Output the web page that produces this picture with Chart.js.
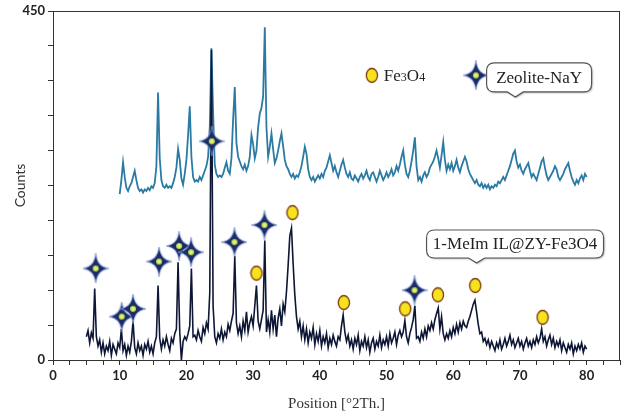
<!DOCTYPE html>
<html>
<head>
<meta charset="utf-8">
<script src="https://cdn.jsdelivr.net/npm/chart.js@4"></script>
<style>
  body { margin: 0; background: #fff; }
</style>
</head>
<body>
<canvas id="chart-xrd" width="625" height="417"></canvas>
<script>
// XRD patterns, 0.25 deg steps
const compositeStart = 5;
const zeoliteStart = 10;
const stepDeg = 0.25;

// 1-MeIm IL@ZY-Fe3O4 (5 .. 80)
const compositeCounts = [
  30, 38, 22, 35, 28, 92, 30, 18, 26, 10, 22, 8, 18, 12, 24, 6, 20, 14, 8, 22,
  16, 40, 12, 20, 6, 18, 10, 24, 50, 16, 8, 22, 12, 18, 6, 20, 14, 24, 10, 18,
  8, 22, 30, 96, 28, 14, 26, 18, 30, 20, 12, 28, 22, 34, 40, 126, 36, 0, 24, 30,
  26, 34, 44, 118, 30, 32, 26, 38, 30, 24, 42, 34, 48, 40, 86, 400, 70, 30, 22, 34,
  28, 40, 26, 36, 30, 46, 38, 50, 60, 134, 48, 34, 44, 30, 50, 38, 62, 36, 48, 56,
  44, 70, 96, 50, 40, 52, 64, 154, 36, 52, 36, 64, 40, 58, 30, 54, 66, 44, 72, 62,
  88, 122, 160, 170, 124, 84, 56, 40, 50, 30, 44, 26, 40, 22, 36, 28, 42, 20, 34, 24,
  38, 18, 30, 22, 34, 16, 28, 20, 32, 24, 18, 30, 26, 44, 58, 36, 24, 32, 18, 26,
  14, 28, 20, 32, 12, 24, 18, 30, 16, 26, 10, 22, 28, 14, 24, 18, 32, 16, 26, 20,
  30, 18, 34, 22, 28, 36, 20, 32, 38, 30, 36, 51, 30, 22, 34, 42, 52, 70, 28, 30,
  24, 36, 28, 40, 30, 44, 38, 48, 40, 52, 60, 67, 40, 56, 34, 26, 34, 28, 38, 30,
  42, 34, 46, 36, 48, 40, 50, 44, 42, 50, 56, 64, 72, 77, 62, 46, 34, 36, 24, 28,
  20, 26, 16, 24, 18, 12, 22, 16, 26, 14, 20, 28, 18, 24, 32, 20, 26, 16, 22, 28,
  18, 24, 14, 22, 28, 18, 24, 16, 26, 20, 30, 22, 28, 40, 24, 30, 18, 26, 32, 20,
  28, 16, 24, 18, 26, 12, 22, 16, 10, 20, 14, 22, 8, 18, 12, 20, 14, 22, 10, 18,
  14
];

// Zeolite-NaY, shifted up (10 .. 80)
const zeoliteCounts = [
  214, 232, 255, 236, 222, 218, 224, 228, 236, 244, 232, 222, 218, 220, 216, 220, 218, 222, 219, 224,
  222, 228, 250, 345, 260, 232, 224, 222, 226, 222, 224, 222, 228, 236, 248, 272, 258, 234, 226, 240,
  258, 290, 327, 262, 236, 230, 232, 230, 236, 232, 238, 244, 250, 262, 300, 402, 320, 252, 240, 236,
  238, 236, 240, 248, 255, 244, 240, 260, 310, 352, 280, 262, 256, 250, 246, 252, 244, 250, 262, 290,
  278, 260, 270, 300, 318, 325, 340, 429, 300, 262, 275, 292, 272, 254, 260, 270, 282, 292, 276, 258,
  250, 246, 240, 236, 240, 234, 238, 236, 242, 250, 262, 275, 266, 246, 236, 232, 236, 230, 234, 238,
  234, 240, 236, 244, 248, 256, 264, 254, 244, 250, 242, 236, 244, 252, 258, 248, 240, 236, 242, 234,
  232, 238, 234, 230, 236, 240, 234, 238, 244, 236, 232, 240, 242, 236, 230, 236, 244, 238, 232, 236,
  242, 236, 240, 246, 238, 242, 250, 244, 252, 262, 270, 252, 240, 236, 244, 256, 270, 287, 250, 232,
  236, 230, 238, 242, 236, 240, 248, 252, 256, 262, 270, 260, 248, 264, 281, 258, 244, 252, 246, 254,
  244, 250, 258, 248, 242, 250, 256, 262, 256, 246, 240, 236, 232, 228, 232, 226, 224, 228, 222, 226,
  222, 226, 220, 224, 222, 226, 224, 230, 228, 232, 236, 232, 238, 244, 250, 258, 266, 270, 256, 248,
  252, 244, 240, 246, 250, 254, 244, 236, 240, 236, 232, 240, 248, 256, 260, 248, 238, 232, 236, 240,
  244, 250, 246, 236, 232, 236, 240, 246, 250, 254, 244, 236, 230, 226, 232, 228, 234, 238, 232, 240,
  236
];

// phase markers
const zeoliteMarkX = [6.4, 10.3, 12.0, 15.9, 18.9, 20.7, 23.8, 27.2, 31.7, 54.2];
const zeoliteMarkY = [118, 56, 66, 127, 147, 139, 282, 152, 174, 90];
const magnetiteMarkX = [30.5, 35.9, 43.6, 52.8, 57.7, 63.3, 73.4];
const magnetiteMarkY = [112, 190, 74, 66, 84, 96, 55];

const xTickLabels = [0, 10, 20, 30, 40, 50, 60, 70, 80];
const yTickLabels = [0, 450];

function toPoints(start, values) {
  return values.map((v, i) => ({ x: start + i * stepDeg, y: v }));
}
function toMarks(xs, ys) {
  return xs.map((x, i) => ({ x: x, y: ys[i] }));
}

function makeStar() {
  const c = document.createElement("canvas");
  c.width = 26;
  c.height = 30;
  const g = c.getContext("2d");
  const cx = 13, cy = 15, k = 1.2;
  g.beginPath();
  g.moveTo(cx, 0);
  g.quadraticCurveTo(cx + k, cy - k, 26, cy);
  g.quadraticCurveTo(cx + k, cy + k, cx, 30);
  g.quadraticCurveTo(cx - k, cy + k, 0, cy);
  g.quadraticCurveTo(cx - k, cy - k, cx, 0);
  g.closePath();
  g.shadowColor = "rgba(120,150,220,0.9)";
  g.shadowBlur = 2;
  g.fillStyle = "#1c2d68";
  g.fill();
  g.shadowColor = "transparent";
  g.strokeStyle = "#8ea3da";
  g.lineWidth = 0.6;
  g.stroke();
  const grad = g.createRadialGradient(cx, cy, 0, cx, cy, 3.5);
  grad.addColorStop(0, "#fbfb8a");
  grad.addColorStop(1, "#a6cf3c");
  g.beginPath();
  g.arc(cx, cy, 3, 0, Math.PI * 2);
  g.fillStyle = grad;
  g.fill();
  return c;
}

function makeDot() {
  const c = document.createElement("canvas");
  c.width = 14;
  c.height = 17;
  const g = c.getContext("2d");
  g.beginPath();
  g.ellipse(7, 8.5, 5.6, 7, 0, 0, Math.PI * 2);
  g.fillStyle = "#f7e21f";
  g.fill();
  g.strokeStyle = "#7a3a0c";
  g.lineWidth = 1.3;
  g.stroke();
  return c;
}

const starImg = makeStar();
const dotImg = makeDot();

function callout(ctx, left, top, w, h, tipX, text) {
  const r = 8, bottom = top + h;
  ctx.save();
  ctx.beginPath();
  ctx.moveTo(left + r, top);
  ctx.lineTo(left + w - r, top);
  ctx.quadraticCurveTo(left + w, top, left + w, top + r);
  ctx.lineTo(left + w, bottom - r);
  ctx.quadraticCurveTo(left + w, bottom, left + w - r, bottom);
  ctx.lineTo(tipX + 8, bottom);
  ctx.lineTo(tipX, bottom + 5);
  ctx.lineTo(tipX - 8, bottom);
  ctx.lineTo(left + r, bottom);
  ctx.quadraticCurveTo(left, bottom, left, bottom - r);
  ctx.lineTo(left, top + r);
  ctx.quadraticCurveTo(left, top, left + r, top);
  ctx.closePath();
  ctx.shadowColor = "rgba(0,0,0,0.35)";
  ctx.shadowBlur = 2;
  ctx.shadowOffsetX = 1;
  ctx.shadowOffsetY = 1;
  ctx.fillStyle = "#fff";
  ctx.fill();
  ctx.shadowColor = "transparent";
  ctx.strokeStyle = "#555";
  ctx.lineWidth = 1.2;
  ctx.stroke();
  ctx.fillStyle = "#222";
  ctx.font = '17px "Liberation Serif"';
  ctx.textAlign = "center";
  ctx.textBaseline = "middle";
  ctx.fillText(text, left + w / 2, top + h / 2 + 1);
  ctx.restore();
}

const annotations = {
  id: "annotations",
  afterDraw(chart) {
    const { ctx, chartArea: a, scales } = chart;
    const x = scales.x, y = scales.y;
    ctx.save();
    // frame
    ctx.strokeStyle = "#333";
    ctx.lineWidth = 1;
    ctx.strokeRect(a.left + 0.5, a.top + 0.5, a.right - a.left - 1, a.bottom - a.top);

    // legend: Fe3O4
    const lx = x.getPixelForValue(47.8), ly = y.getPixelForValue(367);
    ctx.drawImage(dotImg, lx - 7, ly - 8.5);
    ctx.fillStyle = "#222";
    ctx.textBaseline = "alphabetic";
    ctx.textAlign = "left";
    let tx = lx + 12;
    const base = ly + 6;
    const parts = [["Fe", 17], ["3", 12], ["O", 17], ["4", 12]];
    parts.forEach(([s, size]) => {
      ctx.font = size + 'px "Liberation Serif"';
      ctx.fillText(s, tx, base);
      tx += ctx.measureText(s).width;
    });

    // legend: Zeolite-NaY
    const sx = x.getPixelForValue(63.4), sy = y.getPixelForValue(367);
    ctx.drawImage(starImg, sx - 13, sy - 15);
    callout(ctx, x.getPixelForValue(65), y.getPixelForValue(383), 105, 29,
      x.getPixelForValue(69.3), "Zeolite-NaY");

    // sample label
    callout(ctx, x.getPixelForValue(56), y.getPixelForValue(167.6), 177, 28,
      x.getPixelForValue(63.5), "1-MeIm IL@ZY-Fe3O4");
    ctx.restore();
  },
};

const ctxXrd = document.getElementById("chart-xrd");

new Chart(ctxXrd, {
  type: "scatter",
  data: {
    datasets: [
      {
        label: "Zeolite-NaY marks",
        data: toMarks(zeoliteMarkX, zeoliteMarkY),
        pointStyle: starImg,
        order: 0,
      },
      {
        label: "Fe3O4 marks",
        data: toMarks(magnetiteMarkX, magnetiteMarkY),
        pointStyle: dotImg,
        order: 0,
      },
      {
        label: "Zeolite-NaY",
        data: toPoints(zeoliteStart, zeoliteCounts),
        showLine: true,
        borderColor: "#2a7aa3",
        borderWidth: 1.8,
        pointRadius: 0,
        order: 2,
      },
      {
        label: "1-MeIm IL@ZY-Fe3O4",
        data: toPoints(compositeStart, compositeCounts),
        showLine: true,
        borderColor: "#0d1634",
        borderWidth: 1.6,
        pointRadius: 0,
        order: 1,
      },
    ],
  },
  options: {
    responsive: false,
    animation: false,
    events: [],
    layout: { padding: { top: 11, right: 4, left: 0, bottom: 0 } },
    plugins: {
      legend: { display: false },
      tooltip: { enabled: false },
    },
    scales: {
      x: {
        type: "linear",
        min: 0,
        max: 85,
        afterFit: (s) => { s.height = 57; },
        border: { display: true, color: "#333", width: 1 },
        grid: { drawOnChartArea: false, tickLength: 5, color: "#333" },
        ticks: {
          stepSize: 2.5,
          autoSkip: false,
          maxRotation: 0,
          padding: 3,
          color: "#222",
          font: { family: "Lato", weight: "bold", size: 13 },
          callback: (v) => (xTickLabels.includes(v) ? String(v) : ""),
        },
        title: {
          display: true,
          text: "Position [°2Th.]",
          color: "#333",
          font: { family: "Liberation Serif", size: 15 },
          padding: { top: 5 },
        },
      },
      y: {
        min: 0,
        max: 450,
        afterFit: (s) => { s.width = 53; },
        border: { display: true, color: "#333", width: 1 },
        grid: { drawOnChartArea: false, tickLength: 5, color: "#333" },
        ticks: {
          stepSize: 45,
          autoSkip: false,
          padding: 3,
          color: "#222",
          font: { family: "Lato", weight: "bold", size: 13 },
          callback: (v) => (yTickLabels.includes(v) ? String(v) : ""),
        },
        title: {
          display: true,
          text: "Counts",
          color: "#333",
          font: { family: "Lato", size: 14 },
          padding: { top: 12, bottom: 0 },
        },
      },
    },
  },
  plugins: [annotations],
});
</script>
</body>
</html>
